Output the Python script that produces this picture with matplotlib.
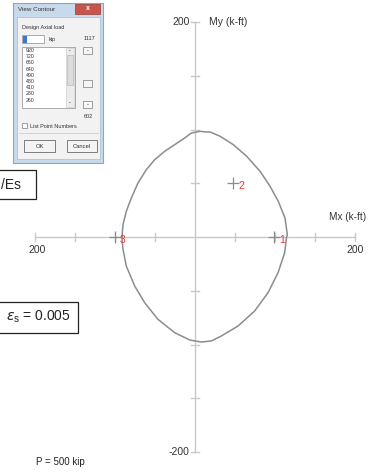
import numpy as np
import matplotlib.pyplot as plt
from matplotlib.patches import Rectangle

plt.rcParams['font.family'] = ['Liberation Sans', 'DejaVu Sans']

# interaction contour at P = 500 kip (Mx, My in k-ft)
mx = [-91.3, -90, -85.9, -79.6, -71.3, -60.9, -50.4, -37.9, -25.4, -12.9, -4.6, 5.9, 14.1,
      18.8, 31.3, 47.9, 64.6, 81.3, 93.8, 104.1, 112.5, 115.4,
      114.5, 112.1, 103.8, 91.3, 74.6, 53.8, 32.9, 20.4, 7.9, -6.6, -25.4, -46.3, -62.9,
      -75.4, -85.9, -90, -91.3, -91.3]
my = [0, 11.4, 23.9, 36.3, 50.2, 62.6, 71.9, 79.7, 85.9, 92.1, 96.7, 98.3, 97.7,
      97.7, 93.7, 85.9, 75.1, 61.1, 47.2, 33.2, 17.7, 2.1,
      0, -14.6, -33.2, -51.8, -68.8, -82.8, -92.1, -96.7, -97.7, -95.8, -89, -76.6, -61.1,
      -45.6, -27, -11.4, -2.1, 0]

# numbered points
pt_ids = ['1', '2', '3']
pt_mx = [99, 47.9, -100]
pt_my = [0, 50.2, 0]

tick_vals = [-200, -150, -100, -50, 50, 100, 150, 200]
list_loads = ['920', '720', '660', '640', '490', '480', '410', '280', '260']

W, H = 368, 472
fig = plt.figure(figsize=(W / 100, H / 100), dpi=100)

# chart axes: pixel (195, 237) is the origin, 0.8 px per unit in x, 1.075 px per unit in y
ax = fig.add_axes([0, 0, 1, 1])
ax.set_xlim((0 - 195) / 0.8, (W - 195) / 0.8)
ax.set_ylim((237 - H) / 1.075, 237 / 1.075)
ax.axis('off')

axc = '#c8c8c8'
ax.plot([-200, 200], [0, 0], color=axc, lw=1)
ax.plot([0, 0], [-200, 200], color=axc, lw=1)
for t in tick_vals:
    ax.plot([t, t], [-3.7, 3.7], color=axc, lw=1)
    ax.plot([-5, 5], [t, t], color=axc, lw=1)

ax.plot(mx, my, color='#8c8c8c', lw=1.1, solid_joinstyle='round')

for i, x, y in zip(pt_ids, pt_mx, pt_my):
    ax.plot(x, y, marker='+', ms=9, mew=0.9, color='#8c8c8c')
    ax.text(x + 6, y - 2.5, i, color='#e8352e', fontsize=7.5, ha='left', va='center')

tc = '#333333'
ax.text(-197.5, -12, '200', fontsize=7.5, color=tc, ha='center', va='center')
ax.text(200, -12, '200', fontsize=7.5, color=tc, ha='center', va='center')
ax.text(-6.5, 200, '200', fontsize=7.5, color=tc, ha='right', va='center')
ax.text(-7.5, -200, '-200', fontsize=7.5, color=tc, ha='right', va='center')
ax.text(17.5, 200, 'My (k-ft)', fontsize=7.5, color=tc, ha='left', va='center')
ax.text(214, 18.6, 'Mx (k-ft)', fontsize=7.2, color=tc, ha='right', va='center')

# overlay in pixel coordinates for the dialog and note boxes
ov = fig.add_axes([0, 0, 1, 1])
ov.set_xlim(0, W)
ov.set_ylim(H, 0)
ov.axis('off')
ov.patch.set_alpha(0)


def box(x0, y0, x1, y1, fc, ec, lw=0.6, z=2):
    ov.add_patch(Rectangle((x0, y0), x1 - x0, y1 - y0, facecolor=fc, edgecolor=ec, lw=lw, zorder=z))


# dialog window
box(13, 3, 103, 163, '#c8d9ec', '#8fa5bf', 0.8)
box(75, 4, 100, 14, '#c9544c', '#9c3a34', 0.5, 3)
ov.text(87.5, 9, 'x', color='white', fontsize=5, ha='center', va='center', zorder=4, weight='bold')
ov.text(18, 9.5, 'View Contour', fontsize=4.5, color='#333333', va='center', zorder=4)
box(17, 17, 100, 159, '#f2f2f2', '#a9b9cc', 0.5, 3)
ov.text(22, 27, 'Design Axial load', fontsize=4, color='#333333', va='center', zorder=4)
box(22, 35, 44, 43, 'white', '#8a8a8a', 0.5, 4)
box(22.5, 35.5, 26.5, 42.5, '#3b78c8', 'none', 0, 5)
ov.text(49, 39, 'kip', fontsize=4, color='#333333', va='center', zorder=4)
ov.text(89, 38, '1117', fontsize=4, color='#333333', ha='center', va='center', zorder=4)
# list of loads
box(22, 47, 75, 108, 'white', '#8a8a8a', 0.5, 4)
for k, lab in enumerate(list_loads):
    ov.text(26, 50.5 + k * 6.2, lab, fontsize=3.8, color='#333333', va='center', zorder=5)
box(66, 48, 74, 107, '#ececec', '#c8c8c8', 0.4, 5)
box(67, 55, 73, 85, '#dcdcdc', '#b0b0b0', 0.4, 6)
ov.text(70, 51, '-', fontsize=4, ha='center', va='center', zorder=6)
ov.text(70, 103, '-', fontsize=4, ha='center', va='center', zorder=6)
# slider buttons
for yb in (47, 80, 101):
    box(83, yb, 92, yb + 7, '#f7f7f7', '#7a7a7a', 0.5, 4)
ov.text(87.5, 50.5, '-', fontsize=4, ha='center', va='center', zorder=6)
ov.text(87.5, 104.5, '-', fontsize=4, ha='center', va='center', zorder=6)
ov.text(88, 117, '602', fontsize=4, color='#333333', ha='center', va='center', zorder=4)
box(22, 123, 27, 128, 'white', '#7a7a7a', 0.5, 4)
ov.text(30, 126, 'List Point Numbers', fontsize=4, color='#333333', va='center', zorder=4)
ov.plot([19, 98], [133, 133], color='#cfcfcf', lw=0.6, zorder=4)
box(24, 140, 55, 152, '#f4f4f4', '#6a6a6a', 0.6, 4)
ov.text(39.5, 146, 'OK', fontsize=4.2, color='#333333', ha='center', va='center', zorder=5)
box(67, 140, 97, 152, '#f4f4f4', '#6a6a6a', 0.6, 4)
ov.text(82, 146, 'Cancel', fontsize=4.2, color='#333333', ha='center', va='center', zorder=5)

# note boxes
box(-2, 170, 36, 199, 'white', '#222222', 0.9)
ov.text(1, 185, '/Es', fontsize=10, color='#222222', va='center', zorder=4)
box(-2, 302, 78, 333, 'white', '#222222', 0.9)
ov.text(6, 317, r'$\varepsilon_\mathregular{s}$ = 0.005', fontsize=10, color='#222222', va='center', zorder=4)

ov.text(36, 462, 'P = 500 kip', fontsize=7, color='#222222', va='center')

fig.savefig('out.png', dpi=100)
